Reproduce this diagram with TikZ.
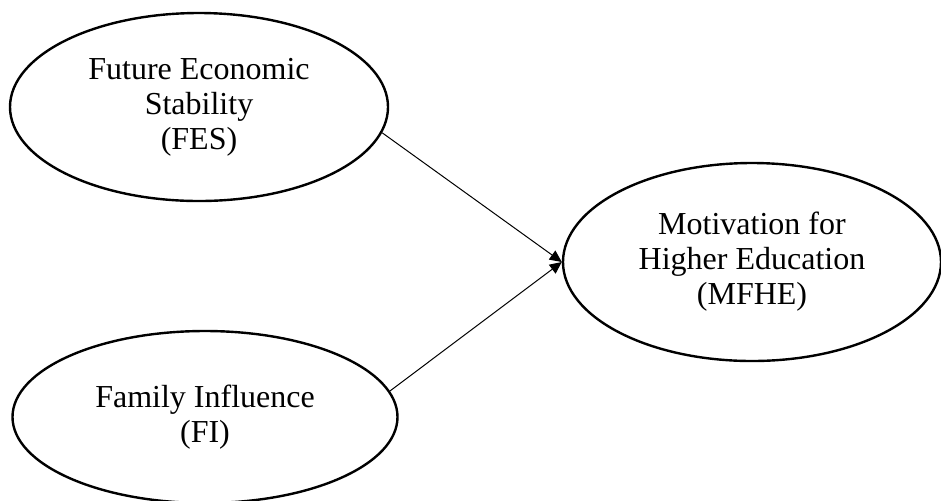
\documentclass[tikz,border=0pt]{standalone}
\usepackage{fontspec}
\setmainfont{Liberation Serif}
\usetikzlibrary{shapes.geometric,arrows.meta}
\begin{document}
\begin{tikzpicture}[x=0.5pt,y=-0.5pt,
    construct/.style={draw, ellipse, line width=1.2pt, inner sep=0pt, align=center,
      font=\fontsize{16}{17.5}\selectfont},
    effect/.style={-{Triangle[length=6pt,width=5.5pt]}, line width=0.5pt}]
  \useasboundingbox (0,0) rectangle (941,500);
  \node[construct, minimum width=189pt, minimum height=94pt] (fes) at (199,107) {Future Economic\\Stability\\(FES)};
  \node[construct, minimum width=189pt, minimum height=99pt] (mfhe) at (752,262) {Motivation for\\Higher Education\\(MFHE)};
  \node[construct, minimum width=192.5pt, minimum height=86pt] (fi) at (205,417) {Family Influence\\(FI)};
  \draw[effect] (fes.-8) -- (mfhe.west);
  \draw[effect] (fi.8) -- (mfhe.west);
\end{tikzpicture}
\end{document}
